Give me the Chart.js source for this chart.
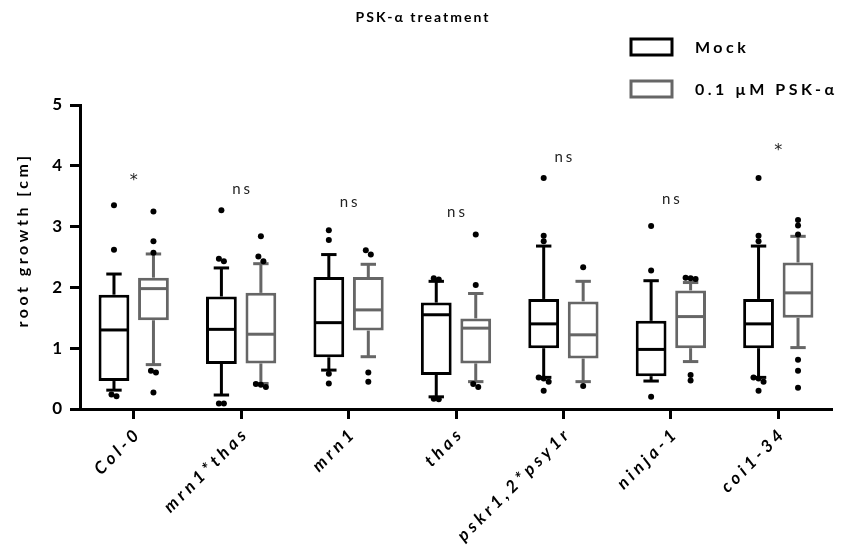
<!DOCTYPE html>
<html><head><meta charset="utf-8">
<script src="https://cdn.jsdelivr.net/npm/chart.js@4.4.1/dist/chart.umd.min.js"></script>
<style>html,body{margin:0;padding:0;background:#fff}#wrap{width:844px;height:555px;position:relative}</style>
</head><body><div id="wrap"><canvas id="c" width="844" height="555"></canvas></div>
<script>
const categories = ['Col-0','mrn1*thas','mrn1','thas','pskr1,2*psy1r','ninja-1','coi1-34'];
const seriesNames = ['Mock','0.1 \u00b5M PSK-\u03b1'];
const yTicks = [0,1,2,3,4,5];

const mockQ1 = [0.46,0.74,0.85,0.56,1.00,0.54,1.00];
const mockMedian = [1.30,1.31,1.42,1.55,1.40,0.98,1.40];
const mockQ3 = [1.88,1.85,2.17,1.75,1.81,1.45,1.81];
const mockWhiskerLow = [0.31,0.23,0.64,0.20,0.52,0.46,0.52];
const mockWhiskerHigh = [2.22,2.32,2.54,2.10,2.68,2.11,2.68];
const mockOutliers = [[3.35,2.62,0.24,0.21],[3.27,2.47,2.43,0.09,0.09],[2.94,2.78,0.58,0.42],[2.15,2.13,0.17,0.16],[3.80,2.85,2.76,0.52,0.50,0.45,0.30],[3.01,2.28,0.20],[3.80,2.85,2.76,0.52,0.50,0.45,0.30]];

const pskQ1 = [1.46,0.75,1.29,0.75,0.83,1.00,1.50];
const pskMedian = [1.98,1.23,1.63,1.33,1.22,1.52,1.91];
const pskQ3 = [2.16,1.91,2.17,1.49,1.77,1.95,2.41];
const pskWhiskerLow = [0.73,0.42,0.86,0.45,0.45,0.78,1.01];
const pskWhiskerHigh = [2.55,2.39,2.38,1.90,2.10,2.08,2.84];
const pskOutliers = [[3.25,2.76,2.57,0.63,0.60,0.27],[2.84,2.51,2.43,0.41,0.40,0.36],[2.61,2.54,0.60,0.45],[2.87,2.04,0.41,0.36],[2.33,0.38],[2.16,2.15,2.14,0.56,0.47],[3.11,3.02,2.87,0.81,0.63,0.35]];

const sigLabels = ['*','ns','ns','ns','ns','ns','*'];
const sigY = [3.76,3.62,3.40,3.23,4.15,3.45,4.25];

const MOCK_COLOR = '#000000';
const PSK_COLOR = '#666666';
const FONT = 'Lato, "Open Sans", sans-serif';

const boxStats = [
  {q1: mockQ1, med: mockMedian, q3: mockQ3, lo: mockWhiskerLow, hi: mockWhiskerHigh, out: mockOutliers, color: MOCK_COLOR},
  {q1: pskQ1, med: pskMedian, q3: pskQ3, lo: pskWhiskerLow, hi: pskWhiskerHigh, out: pskOutliers, color: PSK_COLOR}
];

function seg(ctx,x1,y1,x2,y2){ctx.beginPath();ctx.moveTo(x1,y1);ctx.lineTo(x2,y2);ctx.stroke();}

function drawBoxes(chart){
  const ctx = chart.ctx, ys = chart.scales.y;
  const p = v => ys.getPixelForValue(v);
  boxStats.forEach((s, di) => {
    const meta = chart.getDatasetMeta(di);
    meta.data.forEach((bar, i) => {
      const x = bar.x, w = bar.width;
      ctx.save();
      ctx.strokeStyle = s.color; ctx.lineWidth = 3; ctx.lineCap = 'butt';
      seg(ctx, x, p(s.q3[i]), x, p(s.hi[i]));
      seg(ctx, x, p(s.q1[i]), x, p(s.lo[i]));
      seg(ctx, x - w/4, p(s.hi[i]), x + w/4, p(s.hi[i]));
      seg(ctx, x - w/4, p(s.lo[i]), x + w/4, p(s.lo[i]));
      seg(ctx, x - w/2 + 2, p(s.med[i]), x + w/2 - 2, p(s.med[i]));
      const pts = s.out[i].map(v => p(v)).sort((a,b)=>a-b);
      const clusters = [];
      pts.forEach(py => {
        const c = clusters[clusters.length-1];
        if (c && py - c[c.length-1] < 5) c.push(py); else clusters.push([py]);
      });
      ctx.fillStyle = '#000';
      clusters.forEach(c => {
        c.forEach((py, k) => {
          const dx = (k - (c.length-1)/2) * 5;
          ctx.beginPath(); ctx.arc(x + dx, py, 3, 0, Math.PI*2); ctx.fill();
        });
      });
      ctx.restore();
    });
  });
}

const decoPlugin = {
  id: 'deco',
  beforeDraw(chart){ chart.ctx.letterSpacing = '4px'; },
  afterDatasetsDraw(chart){
    const ctx = chart.ctx;
    ctx.save();
    ctx.letterSpacing = '0px';
    drawBoxes(chart);
    ctx.restore();
  },
  afterDraw(chart){
    const ctx = chart.ctx, xs = chart.scales.x, ys = chart.scales.y;
    ctx.save();
    ctx.fillStyle = '#000';
    // title
    ctx.letterSpacing = '2px';
    ctx.font = 'bold 14px ' + FONT;
    ctx.textAlign = 'center'; ctx.textBaseline = 'middle';
    ctx.fillText('PSK-\u03b1 treatment', chart.width/2 + 1, 17);
    // legend
    ctx.letterSpacing = '3.5px';
    ctx.font = 'bold 16px ' + FONT;
    ctx.textAlign = 'left';
    const legendColors = [MOCK_COLOR, PSK_COLOR];
    const legendY = [47, 89];
    seriesNames.forEach((n, k) => {
      ctx.strokeStyle = legendColors[k]; ctx.lineWidth = 3;
      ctx.strokeRect(631, legendY[k] - 8, 41, 16);
      ctx.fillStyle = '#000';
      ctx.fillText(n, 695, legendY[k] + 1);
    });
    // y axis title
    ctx.save();
    ctx.translate(23, 240);
    ctx.rotate(-Math.PI/2);
    ctx.letterSpacing = '3.5px';
    ctx.font = 'bold 16px ' + FONT;
    ctx.textAlign = 'center'; ctx.textBaseline = 'middle';
    ctx.fillText('root growth [cm]', 0, 0);
    ctx.restore();
    // significance
    ctx.fillStyle = '#222';
    ctx.textAlign = 'center'; ctx.textBaseline = 'middle';
    sigLabels.forEach((t, i) => {
      if (t === '*') { ctx.letterSpacing = '0px'; ctx.font = '16px "DejaVu Sans", sans-serif'; }
      else { ctx.letterSpacing = '3px'; ctx.font = '15px ' + FONT; }
      ctx.fillText(t, xs.getPixelForValue(i) + (t === '*' ? 0 : 1.5), ys.getPixelForValue(sigY[i]));
    });
    ctx.restore();
    ctx.letterSpacing = '0px';
  }
};

new Chart(document.getElementById('c'), {
  type: 'bar',
  data: {
    labels: categories,
    datasets: [
      {label: seriesNames[0], data: mockQ1.map((v,i)=>[v, mockQ3[i]]), backgroundColor: '#fff', borderColor: MOCK_COLOR, borderWidth: 3, borderSkipped: false},
      {label: seriesNames[1], data: pskQ1.map((v,i)=>[v, pskQ3[i]]), backgroundColor: '#fff', borderColor: PSK_COLOR, borderWidth: 3, borderSkipped: false}
    ]
  },
  options: {
    responsive: false,
    animation: false,
    events: [],
    categoryPercentage: 0.735,
    barPercentage: 0.78,
    layout: {padding: {top: 105, right: 12, left: 0, bottom: 0}},
    plugins: {legend: {display: false}, title: {display: false}, tooltip: {enabled: false}},
    scales: {
      x: {
        offset: true,
        afterFit(scale){ scale.height = 146; },
        grid: {display: true, offset: false, drawOnChartArea: false, drawTicks: true, tickLength: 10, tickWidth: 3, tickColor: '#000'},
        border: {display: true, width: 3, color: '#000'},
        ticks: {color: '#000', font: {family: FONT, size: 17, weight: 'bold', style: 'italic'}, maxRotation: 45, minRotation: 45, padding: 4, labelOffset: 5, autoSkip: false}
      },
      y: {
        min: 0, max: 5,
        afterFit(scale){ scale.width = 80; },
        afterBuildTicks(scale){ scale.ticks = yTicks.map(v => ({value: v})); },
        grid: {display: true, drawOnChartArea: false, drawTicks: true, tickLength: 10, tickWidth: 3, tickColor: '#000'},
        border: {display: true, width: 3, color: '#000'},
        ticks: {color: '#000', font: {family: FONT, size: 17, weight: 'bold'}, padding: 4}
      }
    }
  },
  plugins: [decoPlugin]
});
</script></body></html>
